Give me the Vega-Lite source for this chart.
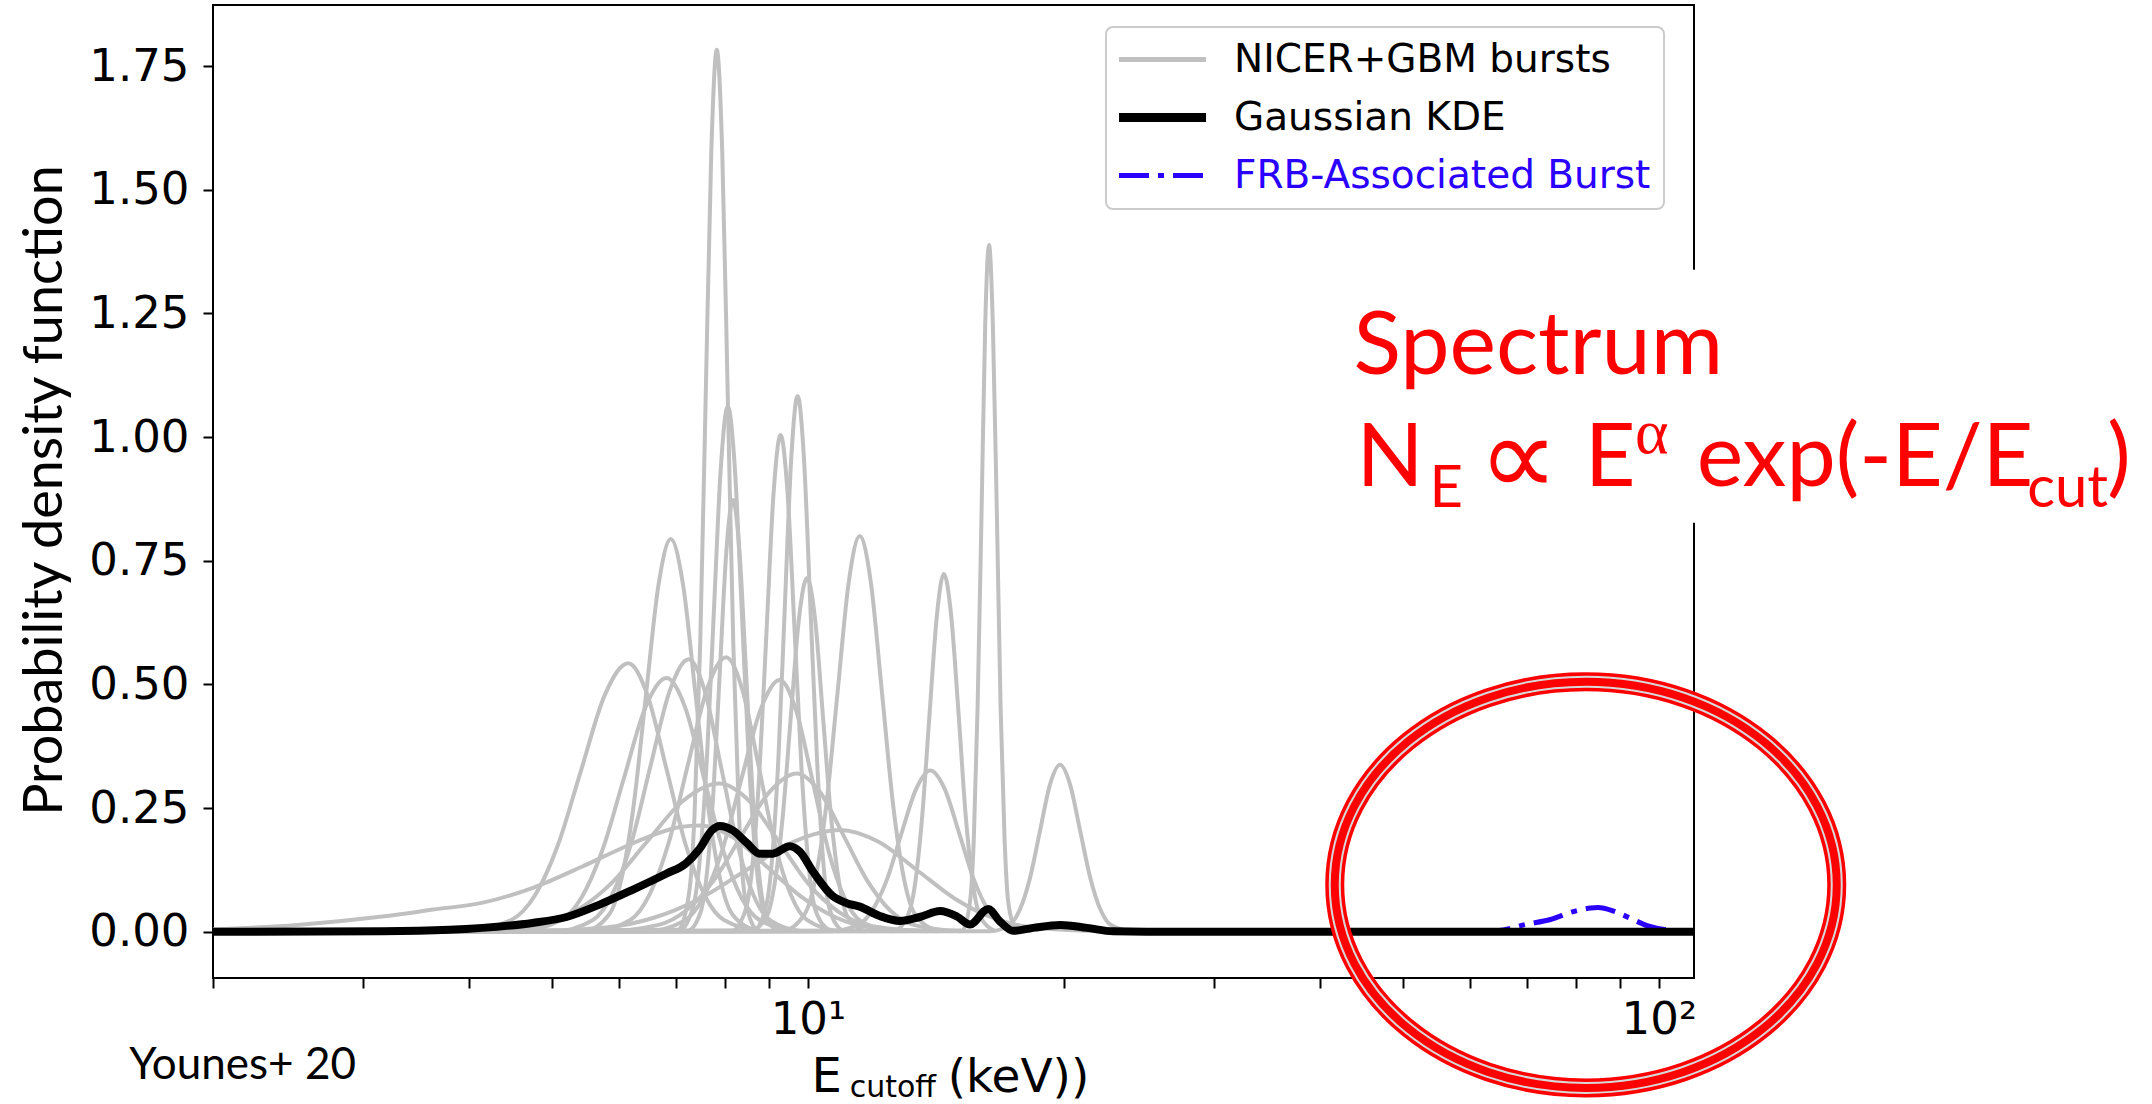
{
"$schema": "https://vega.github.io/schema/vega-lite/v6.json",
"width": 1481, "height": 973,
"autosize": {"type": "none"},
"padding": {"left": 213, "top": 5, "right": 458, "bottom": 126},
"background": "white",
"config": {
 "view": {"stroke": "black", "strokeWidth": 2},
 "font": "DejaVu Sans",
 "axis": {"grid": false, "domain": false, "tickColor": "black", "tickWidth": 2, "tickSize": 10, "labelFont": "DejaVu Sans", "labelFontSize": 45, "labelColor": "black", "labelFlush": false},
 "axisX": {"labelPadding": 9},
 "axisY": {"labelPadding": 14, "titleFont": "Lato", "titleFontSize": 54, "titleFontWeight": "normal", "titleColor": "black"}
},
"datasets": {
"bursts": [
{"burst":1,"E":2,"pdf":0},{"burst":1,"E":7.038,"pdf":0.004},{"burst":1,"E":7.252,"pdf":0.078},{"burst":1,"E":7.362,"pdf":0.241},{"burst":1,"E":7.473,"pdf":0.579},{"burst":1,"E":7.586,"pdf":1.081},{"burst":1,"E":7.701,"pdf":1.574},{"burst":1,"E":7.817,"pdf":1.783},{"burst":1,"E":7.934,"pdf":1.574},{"burst":1,"E":8.053,"pdf":1.081},{"burst":1,"E":8.175,"pdf":0.579},{"burst":1,"E":8.299,"pdf":0.241},{"burst":1,"E":8.424,"pdf":0.078},{"burst":1,"E":8.68,"pdf":0.004},
{"burst":2,"E":2,"pdf":0},{"burst":2,"E":15.19,"pdf":0.003},{"burst":2,"E":15.51,"pdf":0.061},{"burst":2,"E":15.67,"pdf":0.188},{"burst":2,"E":15.83,"pdf":0.451},{"burst":2,"E":16.0,"pdf":0.842},{"burst":2,"E":16.16,"pdf":1.225},{"burst":2,"E":16.33,"pdf":1.388},{"burst":2,"E":16.5,"pdf":1.225},{"burst":2,"E":16.68,"pdf":0.842},{"burst":2,"E":16.85,"pdf":0.451},{"burst":2,"E":17.03,"pdf":0.188},{"burst":2,"E":17.2,"pdf":0.061},{"burst":2,"E":17.56,"pdf":0.003},
{"burst":3,"E":2,"pdf":0},{"burst":3,"E":7.051,"pdf":0.002},{"burst":3,"E":7.324,"pdf":0.047},{"burst":3,"E":7.464,"pdf":0.144},{"burst":3,"E":7.608,"pdf":0.345},{"burst":3,"E":7.754,"pdf":0.644},{"burst":3,"E":7.902,"pdf":0.937},{"burst":3,"E":8.053,"pdf":1.062},{"burst":3,"E":8.209,"pdf":0.937},{"burst":3,"E":8.366,"pdf":0.644},{"burst":3,"E":8.527,"pdf":0.345},{"burst":3,"E":8.69,"pdf":0.144},{"burst":3,"E":8.857,"pdf":0.047},{"burst":3,"E":9.199,"pdf":0.002},
{"burst":4,"E":2,"pdf":0},{"burst":4,"E":8.133,"pdf":0.002},{"burst":4,"E":8.449,"pdf":0.044},{"burst":4,"E":8.611,"pdf":0.136},{"burst":4,"E":8.775,"pdf":0.326},{"burst":4,"E":8.944,"pdf":0.609},{"burst":4,"E":9.115,"pdf":0.886},{"burst":4,"E":9.29,"pdf":1.004},{"burst":4,"E":9.468,"pdf":0.886},{"burst":4,"E":9.649,"pdf":0.609},{"burst":4,"E":9.834,"pdf":0.326},{"burst":4,"E":10.02,"pdf":0.136},{"burst":4,"E":10.21,"pdf":0.044},{"burst":4,"E":10.61,"pdf":0.002},
{"burst":5,"E":2,"pdf":0},{"burst":5,"E":8.62,"pdf":0.002},{"burst":5,"E":8.923,"pdf":0.048},{"burst":5,"E":9.078,"pdf":0.147},{"burst":5,"E":9.236,"pdf":0.352},{"burst":5,"E":9.397,"pdf":0.657},{"burst":5,"E":9.561,"pdf":0.956},{"burst":5,"E":9.728,"pdf":1.083},{"burst":5,"E":9.897,"pdf":0.956},{"burst":5,"E":10.07,"pdf":0.657},{"burst":5,"E":10.25,"pdf":0.352},{"burst":5,"E":10.42,"pdf":0.147},{"burst":5,"E":10.6,"pdf":0.048},{"burst":5,"E":10.97,"pdf":0.002},
{"burst":6,"E":2,"pdf":0},{"burst":6,"E":7.218,"pdf":0.002},{"burst":6,"E":7.477,"pdf":0.038},{"burst":6,"E":7.61,"pdf":0.118},{"burst":6,"E":7.746,"pdf":0.283},{"burst":6,"E":7.883,"pdf":0.529},{"burst":6,"E":8.023,"pdf":0.77},{"burst":6,"E":8.166,"pdf":0.873},{"burst":6,"E":8.311,"pdf":0.77},{"burst":6,"E":8.459,"pdf":0.529},{"burst":6,"E":8.609,"pdf":0.283},{"burst":6,"E":8.762,"pdf":0.118},{"burst":6,"E":8.918,"pdf":0.038},{"burst":6,"E":9.237,"pdf":0.002},
{"burst":7,"E":2,"pdf":0},{"burst":7,"E":5.463,"pdf":0.002},{"burst":7,"E":5.841,"pdf":0.035},{"burst":7,"E":6.04,"pdf":0.107},{"burst":7,"E":6.245,"pdf":0.258},{"burst":7,"E":6.457,"pdf":0.482},{"burst":7,"E":6.676,"pdf":0.701},{"burst":7,"E":6.902,"pdf":0.794},{"burst":7,"E":7.136,"pdf":0.701},{"burst":7,"E":7.378,"pdf":0.482},{"burst":7,"E":7.63,"pdf":0.258},{"burst":7,"E":7.888,"pdf":0.107},{"burst":7,"E":8.156,"pdf":0.035},{"burst":7,"E":8.72,"pdf":0.002},
{"burst":8,"E":2,"pdf":0},{"burst":8,"E":9.333,"pdf":0.002},{"burst":8,"E":9.908,"pdf":0.035},{"burst":8,"E":10.21,"pdf":0.108},{"burst":8,"E":10.52,"pdf":0.26},{"burst":8,"E":10.84,"pdf":0.485},{"burst":8,"E":11.17,"pdf":0.706},{"burst":8,"E":11.51,"pdf":0.8},{"burst":8,"E":11.86,"pdf":0.706},{"burst":8,"E":12.22,"pdf":0.485},{"burst":8,"E":12.59,"pdf":0.26},{"burst":8,"E":12.97,"pdf":0.108},{"burst":8,"E":13.37,"pdf":0.035},{"burst":8,"E":14.19,"pdf":0.002},
{"burst":9,"E":2,"pdf":0},{"burst":9,"E":12.6,"pdf":0.002},{"burst":9,"E":13.1,"pdf":0.032},{"burst":9,"E":13.37,"pdf":0.098},{"burst":9,"E":13.63,"pdf":0.235},{"burst":9,"E":13.9,"pdf":0.439},{"burst":9,"E":14.18,"pdf":0.639},{"burst":9,"E":14.45,"pdf":0.724},{"burst":9,"E":14.74,"pdf":0.639},{"burst":9,"E":15.04,"pdf":0.439},{"burst":9,"E":15.33,"pdf":0.235},{"burst":9,"E":15.63,"pdf":0.098},{"burst":9,"E":15.94,"pdf":0.032},{"burst":9,"E":16.58,"pdf":0.002},
{"burst":10,"E":2,"pdf":0},{"burst":10,"E":8.561,"pdf":0.002},{"burst":10,"E":8.944,"pdf":0.031},{"burst":10,"E":9.141,"pdf":0.097},{"burst":10,"E":9.343,"pdf":0.232},{"burst":10,"E":9.55,"pdf":0.434},{"burst":10,"E":9.761,"pdf":0.631},{"burst":10,"E":9.977,"pdf":0.715},{"burst":10,"E":10.2,"pdf":0.631},{"burst":10,"E":10.42,"pdf":0.434},{"burst":10,"E":10.65,"pdf":0.232},{"burst":10,"E":10.89,"pdf":0.097},{"burst":10,"E":11.13,"pdf":0.031},{"burst":10,"E":11.63,"pdf":0.002},
{"burst":11,"E":2,"pdf":0},{"burst":11,"E":3.949,"pdf":0.001},{"burst":11,"E":4.482,"pdf":0.024},{"burst":11,"E":4.776,"pdf":0.073},{"burst":11,"E":5.087,"pdf":0.176},{"burst":11,"E":5.42,"pdf":0.329},{"burst":11,"E":5.774,"pdf":0.479},{"burst":11,"E":6.152,"pdf":0.543},{"burst":11,"E":6.479,"pdf":0.479},{"burst":11,"E":6.823,"pdf":0.329},{"burst":11,"E":7.186,"pdf":0.176},{"burst":11,"E":7.569,"pdf":0.073},{"burst":11,"E":7.97,"pdf":0.024},{"burst":11,"E":8.842,"pdf":0.001},
{"burst":12,"E":2,"pdf":0},{"burst":12,"E":4.56,"pdf":0.001},{"burst":12,"E":5.117,"pdf":0.023},{"burst":12,"E":5.42,"pdf":0.069},{"burst":12,"E":5.741,"pdf":0.167},{"burst":12,"E":6.081,"pdf":0.311},{"burst":12,"E":6.442,"pdf":0.453},{"burst":12,"E":6.823,"pdf":0.513},{"burst":12,"E":7.178,"pdf":0.453},{"burst":12,"E":7.551,"pdf":0.311},{"burst":12,"E":7.943,"pdf":0.167},{"burst":12,"E":8.356,"pdf":0.069},{"burst":12,"E":8.79,"pdf":0.023},{"burst":12,"E":9.727,"pdf":0.001},
{"burst":13,"E":2,"pdf":0},{"burst":13,"E":5.041,"pdf":0.001},{"burst":13,"E":5.591,"pdf":0.024},{"burst":13,"E":5.888,"pdf":0.075},{"burst":13,"E":6.202,"pdf":0.179},{"burst":13,"E":6.531,"pdf":0.334},{"burst":13,"E":6.879,"pdf":0.486},{"burst":13,"E":7.244,"pdf":0.551},{"burst":13,"E":7.569,"pdf":0.486},{"burst":13,"E":7.907,"pdf":0.334},{"burst":13,"E":8.26,"pdf":0.179},{"burst":13,"E":8.63,"pdf":0.075},{"burst":13,"E":9.016,"pdf":0.024},{"burst":13,"E":9.84,"pdf":0.001},
{"burst":14,"E":2,"pdf":0},{"burst":14,"E":5.578,"pdf":0.001},{"burst":14,"E":6.187,"pdf":0.024},{"burst":14,"E":6.516,"pdf":0.075},{"burst":14,"E":6.863,"pdf":0.18},{"burst":14,"E":7.228,"pdf":0.337},{"burst":14,"E":7.612,"pdf":0.49},{"burst":14,"E":8.017,"pdf":0.555},{"burst":14,"E":8.375,"pdf":0.49},{"burst":14,"E":8.75,"pdf":0.337},{"burst":14,"E":9.141,"pdf":0.18},{"burst":14,"E":9.55,"pdf":0.075},{"burst":14,"E":9.977,"pdf":0.024},{"burst":14,"E":10.89,"pdf":0.001},
{"burst":15,"E":2,"pdf":0},{"burst":15,"E":6.449,"pdf":0.001},{"burst":15,"E":7.152,"pdf":0.022},{"burst":15,"E":7.534,"pdf":0.069},{"burst":15,"E":7.934,"pdf":0.165},{"burst":15,"E":8.356,"pdf":0.309},{"burst":15,"E":8.8,"pdf":0.449},{"burst":15,"E":9.268,"pdf":0.509},{"burst":15,"E":9.683,"pdf":0.449},{"burst":15,"E":10.12,"pdf":0.309},{"burst":15,"E":10.57,"pdf":0.165},{"burst":15,"E":11.04,"pdf":0.069},{"burst":15,"E":11.53,"pdf":0.022},{"burst":15,"E":12.59,"pdf":0.001},
{"burst":16,"E":2,"pdf":0},{"burst":16,"E":10.59,"pdf":0.001},{"burst":16,"E":11.46,"pdf":0.014},{"burst":16,"E":11.91,"pdf":0.044},{"burst":16,"E":12.39,"pdf":0.106},{"burst":16,"E":12.88,"pdf":0.198},{"burst":16,"E":13.4,"pdf":0.288},{"burst":16,"E":13.93,"pdf":0.326},{"burst":16,"E":14.49,"pdf":0.288},{"burst":16,"E":15.07,"pdf":0.198},{"burst":16,"E":15.67,"pdf":0.106},{"burst":16,"E":16.29,"pdf":0.044},{"burst":16,"E":16.94,"pdf":0.014},{"burst":16,"E":18.32,"pdf":0.001},
{"burst":17,"E":2,"pdf":0},{"burst":17,"E":3.967,"pdf":0.001},{"burst":17,"E":4.826,"pdf":0.013},{"burst":17,"E":5.321,"pdf":0.041},{"burst":17,"E":5.868,"pdf":0.097},{"burst":17,"E":6.471,"pdf":0.182},{"burst":17,"E":7.136,"pdf":0.265},{"burst":17,"E":7.87,"pdf":0.3},{"burst":17,"E":8.531,"pdf":0.265},{"burst":17,"E":9.247,"pdf":0.182},{"burst":17,"E":10.02,"pdf":0.097},{"burst":17,"E":10.86,"pdf":0.041},{"burst":17,"E":11.78,"pdf":0.013},{"burst":17,"E":13.84,"pdf":0.001},
{"burst":18,"E":2,"pdf":0},{"burst":18,"E":5.748,"pdf":0.001},{"burst":18,"E":6.676,"pdf":0.014},{"burst":18,"E":7.194,"pdf":0.043},{"burst":18,"E":7.754,"pdf":0.104},{"burst":18,"E":8.356,"pdf":0.194},{"burst":18,"E":9.006,"pdf":0.282},{"burst":18,"E":9.705,"pdf":0.32},{"burst":18,"E":10.34,"pdf":0.282},{"burst":18,"E":11.02,"pdf":0.194},{"burst":18,"E":11.74,"pdf":0.104},{"burst":18,"E":12.5,"pdf":0.043},{"burst":18,"E":13.32,"pdf":0.014},{"burst":18,"E":15.12,"pdf":0.001},
{"burst":19,"E":2,"pdf":0},{"burst":19,"E":4.498,"pdf":0.001},{"burst":19,"E":5.794,"pdf":0.009},{"burst":19,"E":6.577,"pdf":0.028},{"burst":19,"E":7.464,"pdf":0.067},{"burst":19,"E":8.472,"pdf":0.125},{"burst":19,"E":9.616,"pdf":0.182},{"burst":19,"E":10.91,"pdf":0.206},{"burst":19,"E":12.11,"pdf":0.182},{"burst":19,"E":13.43,"pdf":0.125},{"burst":19,"E":14.89,"pdf":0.067},{"burst":19,"E":16.52,"pdf":0.028},{"burst":19,"E":18.32,"pdf":0.009},{"burst":19,"E":22.54,"pdf":0.001},
{"burst":20,"E":2,"pdf":0.005},{"burst":20,"E":2.512,"pdf":0.014},{"burst":20,"E":3.162,"pdf":0.031},{"burst":20,"E":3.631,"pdf":0.045},{"burst":20,"E":4.15,"pdf":0.059},{"burst":20,"E":4.753,"pdf":0.089},{"burst":20,"E":5.433,"pdf":0.132},{"burst":20,"E":6.026,"pdf":0.168},{"burst":20,"E":6.516,"pdf":0.193},{"burst":20,"E":7.079,"pdf":0.212},{"burst":20,"E":7.464,"pdf":0.215},{"burst":20,"E":8.185,"pdf":0.19},{"burst":20,"E":8.974,"pdf":0.13},{"burst":20,"E":9.84,"pdf":0.07},{"burst":20,"E":10.79,"pdf":0.029},{"burst":20,"E":11.83,"pdf":0.009},{"burst":20,"E":14.22,"pdf":0.001},
{"burst":21,"E":2,"pdf":0},{"burst":21,"E":16.37,"pdf":0.001},{"burst":21,"E":17.29,"pdf":0.015},{"burst":21,"E":17.76,"pdf":0.046},{"burst":21,"E":18.25,"pdf":0.11},{"burst":21,"E":18.75,"pdf":0.205},{"burst":21,"E":19.26,"pdf":0.298},{"burst":21,"E":19.79,"pdf":0.3375},{"burst":21,"E":20.33,"pdf":0.298},{"burst":21,"E":20.89,"pdf":0.205},{"burst":21,"E":21.47,"pdf":0.11},{"burst":21,"E":22.06,"pdf":0.046},{"burst":21,"E":22.66,"pdf":0.015},{"burst":21,"E":23.92,"pdf":0.001}
],
"kde": [
{"E":2,"pdf":0},{"E":3.162,"pdf":0.001},{"E":3.792,"pdf":0.004},{"E":4.146,"pdf":0.008},{"E":4.748,"pdf":0.018},{"E":5.206,"pdf":0.03},{"E":5.692,"pdf":0.055},{"E":6.224,"pdf":0.085},{"E":6.826,"pdf":0.118},{"E":7.186,"pdf":0.138},{"E":7.463,"pdf":0.168},{"E":7.711,"pdf":0.205},{"E":7.88,"pdf":0.214},{"E":8.162,"pdf":0.205},{"E":8.476,"pdf":0.18},{"E":8.779,"pdf":0.158},{"E":9.095,"pdf":0.158},{"E":9.524,"pdf":0.173},{"E":9.786,"pdf":0.162},{"E":10.14,"pdf":0.122},{"E":10.7,"pdf":0.072},{"E":11.11,"pdf":0.058},{"E":11.51,"pdf":0.051},{"E":12.15,"pdf":0.032},{"E":12.83,"pdf":0.022},{"E":13.54,"pdf":0.03},{"E":14.3,"pdf":0.042},{"E":14.97,"pdf":0.031},{"E":15.51,"pdf":0.015},{"E":16.29,"pdf":0.046},{"E":16.82,"pdf":0.021},{"E":17.43,"pdf":0.002},{"E":18.4,"pdf":0.008},{"E":19.8,"pdf":0.014},{"E":21.29,"pdf":0.008},{"E":22.85,"pdf":0.001},{"E":25,"pdf":0},{"E":110,"pdf":0}
],
"frb": [
{"E":61.75,"pdf":0},{"E":65.7,"pdf":0.004},{"E":69.4,"pdf":0.014},{"E":74.6,"pdf":0.025},{"E":79.4,"pdf":0.041},{"E":83.2,"pdf":0.048},{"E":84.8,"pdf":0.049},{"E":88.5,"pdf":0.042},{"E":92.7,"pdf":0.027},{"E":97.1,"pdf":0.012},{"E":102.5,"pdf":0.004},{"E":110,"pdf":0.001}
]
},
"layer": [
{
"data": {"name": "bursts"},
"mark": {"type": "line", "strokeWidth": 4, "interpolate": "monotone"},
"encoding": {
"x": {"field": "E", "type": "quantitative", "scale": {"type": "log", "domain": [2, 110], "nice": false},
 "axis": {"title": null, "values": [2,3,4,5,6,7,8,9,10,20,30,40,50,60,70,80,90,100], "labelExpr": "datum.value == 10 ? '10¹' : (datum.value == 100 ? '10²' : '')",
  "encode": {"ticks": {"update": {"y2": {"signal": "(datum.value == 10 || datum.value == 100) ? 10 : 5"}}}}}},
"y": {"field": "pdf", "type": "quantitative", "scale": {"domain": [-0.0933, 1.8733], "nice": false, "zero": false},
 "axis": {"title": "Probability density function", "values": [0,0.25,0.5,0.75,1,1.25,1.5,1.75], "format": ".2f", "titleX": -152, "titleY": 485, "titleAngle": -90, "titleBaseline": "alphabetic", "titleAlign": "center"}},
"detail": {"field": "burst", "type": "nominal"},
"color": {"datum": "NICER+GBM bursts", "type": "nominal",
 "scale": {"domain": ["NICER+GBM bursts", "Gaussian KDE", "FRB-Associated Burst"], "range": ["#c0c0c0", "#000000", "#2a00ff"]},
 "legend": {"title": null, "orient": "none", "legendX": 893, "legendY": 22, "fillColor": "white", "strokeColor": "#cccccc", "cornerRadius": 7, "padding": 13,
  "symbolType": "stroke", "symbolSize": 7569, "symbolStrokeWidth": 5, "symbolOffset": 24,
  "labelFont": "DejaVu Sans", "labelFontSize": 39, "labelColor": "black", "labelOffset": 52, "labelLimit": 700, "rowPadding": 18,
  "encode": {
   "legend": {"update": {"strokeWidth": {"value": 2}}},
   "symbols": {"update": {"strokeWidth": {"signal": "datum.value === 'Gaussian KDE' ? 9 : 5"}, "strokeDash": {"signal": "datum.value === 'FRB-Associated Burst' ? [30,9,6,9] : [1,0]"}}},
   "labels": {"update": {"fill": {"signal": "datum.value === 'FRB-Associated Burst' ? '#2a00ff' : 'black'"}}}
  }}}
}
},
{
"data": {"name": "frb"},
"mark": {"type": "line", "strokeWidth": 5, "strokeDash": [30, 9, 6, 9], "interpolate": "monotone"},
"encoding": {
"x": {"field": "E", "type": "quantitative"},
"y": {"field": "pdf", "type": "quantitative"},
"color": {"datum": "FRB-Associated Burst", "type": "nominal"}
}
},
{
"data": {"name": "kde"},
"mark": {"type": "line", "strokeWidth": 8, "interpolate": "monotone"},
"encoding": {
"x": {"field": "E", "type": "quantitative"},
"y": {"field": "pdf", "type": "quantitative"},
"color": {"datum": "Gaussian KDE", "type": "nominal"}
}
},
{
"data": {"values": [{"t": "box"}]},
"mark": {"type": "rect", "color": "white"},
"encoding": {"x": {"datum": 42.25, "type": "quantitative"}, "x2": {"datum": 369}, "y": {"datum": 1.338, "type": "quantitative"}, "y2": {"datum": 0.827}}
},
{
"data": {"values": [{"t": "Spectrum"}]},
"mark": {"type": "text", "font": "Lato", "fontSize": 88, "color": "#ff0000", "align": "left", "baseline": "alphabetic"},
"encoding": {"x": {"datum": 43.77, "type": "quantitative"}, "y": {"datum": 1.128, "type": "quantitative"}, "text": {"field": "t"}}
},
{
"data": {"values": [{"t": "N"}]},
"mark": {"type": "text", "font": "Lato", "fontSize": 88, "color": "#ff0000", "align": "left", "baseline": "alphabetic"},
"encoding": {"x": {"datum": 44.14, "type": "quantitative"}, "y": {"datum": 0.9014, "type": "quantitative"}, "text": {"field": "t"}}
},
{
"data": {"values": [{"t": "E"}]},
"mark": {"type": "text", "font": "Lato", "fontSize": 58, "color": "#ff0000", "align": "left", "baseline": "alphabetic"},
"encoding": {"x": {"datum": 53.78, "type": "quantitative"}, "y": {"datum": 0.859, "type": "quantitative"}, "text": {"field": "t"}}
},
{
"data": {"values": [{"t": "∝"}]},
"mark": {"type": "text", "font": "DejaVu Sans", "fontSize": 112, "color": "#ff0000", "align": "left", "baseline": "alphabetic"},
"encoding": {"x": {"datum": 61.4, "type": "quantitative"}, "y": {"datum": 0.883, "type": "quantitative"}, "text": {"field": "t"}}
},
{
"data": {"values": [{"t": "E"}]},
"mark": {"type": "text", "font": "Lato", "fontSize": 88, "color": "#ff0000", "align": "left", "baseline": "alphabetic"},
"encoding": {"x": {"datum": 81.84, "type": "quantitative"}, "y": {"datum": 0.9014, "type": "quantitative"}, "text": {"field": "t"}}
},
{
"data": {"values": [{"t": "α"}]},
"mark": {"type": "text", "font": "Liberation Serif", "fontSize": 64, "color": "#ff0000", "align": "left", "baseline": "alphabetic"},
"encoding": {"x": {"datum": 93.8, "type": "quantitative"}, "y": {"datum": 0.968, "type": "quantitative"}, "text": {"field": "t"}}
},
{
"data": {"values": [{"t": "exp(-E/E"}]},
"mark": {"type": "text", "font": "Lato", "fontSize": 88, "color": "#ff0000", "align": "left", "baseline": "alphabetic"},
"encoding": {"x": {"datum": 110.8, "type": "quantitative"}, "y": {"datum": 0.9014, "type": "quantitative"}, "text": {"field": "t"}}
},
{
"data": {"values": [{"t": "cut"}]},
"mark": {"type": "text", "font": "Lato", "fontSize": 58, "color": "#ff0000", "align": "left", "baseline": "alphabetic"},
"encoding": {"x": {"datum": 271, "type": "quantitative"}, "y": {"datum": 0.859, "type": "quantitative"}, "text": {"field": "t"}}
},
{
"data": {"values": [{"t": ")"}]},
"mark": {"type": "text", "font": "Lato", "fontSize": 88, "color": "#ff0000", "align": "left", "baseline": "alphabetic"},
"encoding": {"x": {"datum": 336.5, "type": "quantitative"}, "y": {"datum": 0.9014, "type": "quantitative"}, "text": {"field": "t"}}
},
{
"data": {"values": [{"t": "Younes+ 20"}]},
"mark": {"type": "text", "font": "Lato", "fontSize": 44, "color": "black", "align": "left", "baseline": "alphabetic"},
"encoding": {"x": {"datum": 1.594, "type": "quantitative"}, "y": {"datum": -0.2983, "type": "quantitative"}, "text": {"field": "t"}}
},
{
"data": {"values": [{"t": "E"}]},
"mark": {"type": "text", "font": "DejaVu Sans", "fontSize": 48, "color": "black", "align": "left", "baseline": "alphabetic"},
"encoding": {"x": {"datum": 10.1, "type": "quantitative"}, "y": {"datum": -0.3234, "type": "quantitative"}, "text": {"field": "t"}}
},
{
"data": {"values": [{"t": "cutoff"}]},
"mark": {"type": "text", "font": "DejaVu Sans", "fontSize": 30, "color": "black", "align": "left", "baseline": "alphabetic"},
"encoding": {"x": {"datum": 11.2, "type": "quantitative"}, "y": {"datum": -0.334, "type": "quantitative"}, "text": {"field": "t"}}
},
{
"data": {"values": [{"t": "(keV))"}]},
"mark": {"type": "text", "font": "DejaVu Sans", "fontSize": 47, "color": "black", "align": "left", "baseline": "alphabetic"},
"encoding": {"x": {"datum": 14.6, "type": "quantitative"}, "y": {"datum": -0.3234, "type": "quantitative"}, "text": {"field": "t"}}
},
{
"data": {"values": [{"t": "ring"}]},
"mark": {"type": "point", "shape": "M1,0C1,0.447 0.552,0.809 0,0.809C-0.552,0.809 -1,0.447 -1,0C-1,-0.447 -0.552,-0.809 0,-0.809C0.552,-0.809 1,-0.447 1,0Z", "size": 252004, "filled": false, "stroke": "#ff0000", "strokeWidth": 19, "opacity": 1},
"encoding": {"x": {"datum": 82.07, "type": "quantitative"}, "y": {"datum": 0.095, "type": "quantitative"}}
},
{
"data": {"values": [{"t": "ring"}]},
"mark": {"type": "point", "shape": "M1,0C1,0.447 0.552,0.809 0,0.809C-0.552,0.809 -1,0.447 -1,0C-1,-0.447 -0.552,-0.809 0,-0.809C0.552,-0.809 1,-0.447 1,0Z", "size": 252004, "filled": false, "stroke": "#d8d8d8", "strokeWidth": 12, "opacity": 1},
"encoding": {"x": {"datum": 82.07, "type": "quantitative"}, "y": {"datum": 0.095, "type": "quantitative"}}
},
{
"data": {"values": [{"t": "ring"}]},
"mark": {"type": "point", "shape": "M1,0C1,0.447 0.552,0.809 0,0.809C-0.552,0.809 -1,0.447 -1,0C-1,-0.447 -0.552,-0.809 0,-0.809C0.552,-0.809 1,-0.447 1,0Z", "size": 252004, "filled": false, "stroke": "#ff0000", "strokeWidth": 8, "opacity": 1},
"encoding": {"x": {"datum": 82.07, "type": "quantitative"}, "y": {"datum": 0.095, "type": "quantitative"}}
}
]
}
